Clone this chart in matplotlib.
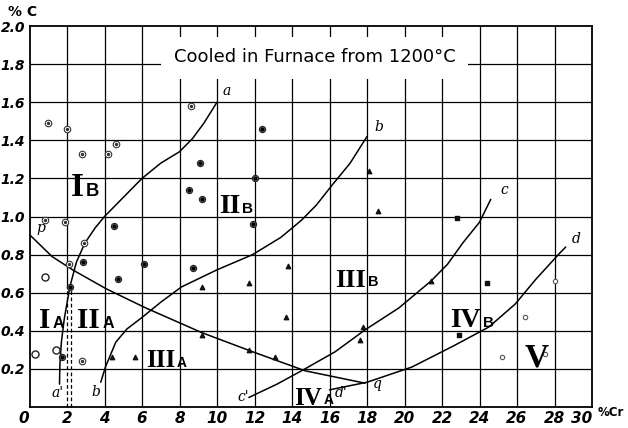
import matplotlib
matplotlib.use("Agg")
import matplotlib.pyplot as plt
from matplotlib.patches import Rectangle

# ---- data ----
# boundary curves, %Cr (x) vs %C (y)
curve_a_x = [1.6, 1.62, 1.7, 1.85, 2.15, 2.5, 2.95, 3.5, 4.0, 5.0, 6.0, 7.0, 8.0, 8.7, 9.3, 10.0]
curve_a_y = [0.12, 0.22, 0.34, 0.46, 0.63, 0.76, 0.86, 0.94, 1.0, 1.1, 1.2, 1.28, 1.34, 1.41, 1.49, 1.6]

curve_b_x = [3.8, 4.05, 4.6, 5.2, 6.0, 7.0, 8.1, 10.0, 11.9, 13.4, 14.5, 15.3, 16.1, 17.1, 18.0]
curve_b_y = [0.13, 0.21, 0.34, 0.41, 0.47, 0.55, 0.63, 0.72, 0.80, 0.89, 0.98, 1.06, 1.16, 1.28, 1.42]

curve_c_x = [11.7, 13.2, 14.6, 16.3, 17.9, 19.7, 21.4, 22.3, 23.1, 24.0, 24.6]
curve_c_y = [0.05, 0.12, 0.195, 0.29, 0.405, 0.52, 0.66, 0.75, 0.86, 0.97, 1.09]

curve_d_x = [16.0, 18.0, 20.4, 22.6, 24.5, 25.9, 27.0, 28.3, 28.6]
curve_d_y = [0.09, 0.13, 0.21, 0.32, 0.42, 0.54, 0.67, 0.81, 0.84]

curve_pq_x = [0.0, 1.2, 2.3, 4.1, 6.2, 9.2, 11.9, 14.7, 17.9]
curve_pq_y = [0.905, 0.79, 0.72, 0.62, 0.52, 0.39, 0.29, 0.19, 0.125]

# observations by marker type
dotcircle_x = [1.0, 2.0, 2.8, 4.2, 4.6, 8.6, 0.85, 1.9, 2.9, 2.1, 2.8]
dotcircle_y = [1.49, 1.46, 1.33, 1.33, 1.38, 1.58, 0.98, 0.97, 0.86, 0.75, 0.24]

starcircle_x = [2.85, 4.5, 4.7, 6.1, 8.7, 11.9, 9.1, 8.5, 9.2, 12.4, 12.05, 1.75, 2.15]
starcircle_y = [0.76, 0.95, 0.67, 0.75, 0.73, 0.96, 1.28, 1.14, 1.09, 1.46, 1.20, 0.26, 0.63]

opencircle_x = [0.8, 0.3, 1.4]
opencircle_y = [0.68, 0.28, 0.30]

triangle_x = [9.2, 9.2, 11.7, 11.7, 13.1, 13.7, 13.8, 18.1, 18.6, 21.4, 17.8, 17.6, 4.4, 5.6]
triangle_y = [0.63, 0.38, 0.65, 0.30, 0.26, 0.47, 0.74, 1.24, 1.03, 0.66, 0.42, 0.35, 0.26, 0.26]

square_x = [22.8, 22.9, 24.4]
square_y = [0.99, 0.38, 0.65]

smallcircle_x = [25.2, 26.4, 27.5, 28.0]
smallcircle_y = [0.26, 0.47, 0.28, 0.66]

x_ticks = list(range(0, 31, 2))
y_ticks = [0.2, 0.4, 0.6, 0.8, 1.0, 1.2, 1.4, 1.6, 1.8, 2.0]
y_ticklabels = ['0.2', '0.4', '0.6', '0.8', '1.0', '1.2', '1.4', '1.6', '1.8', '2.0']

region_labels = [
    ('I', 'B', 2.2, 1.105, 24),
    ('II', 'B', 10.1, 1.02, 20),
    ('III', 'B', 16.3, 0.63, 19),
    ('IV', 'B', 22.45, 0.42, 20),
    ('V', '', 26.4, 0.21, 24),
    ('I', 'A', 0.5, 0.415, 21),
    ('II', 'A', 2.55, 0.415, 21),
    ('III', 'A', 6.2, 0.21, 18),
    ('IV', 'A', 14.1, 0.012, 18),
]

curve_letters = [
    ('a', 10.3, 1.64), ("a'", 1.15, 0.05), ('b', 18.4, 1.45), ('b', 3.3, 0.06),
    ('c', 25.1, 1.12), ("c'", 11.1, 0.03), ('d', 28.9, 0.86), ("d'", 16.3, 0.05),
    ('p', 0.35, 0.92), ('q', 18.3, 0.1),
]

# ---- figure ----
fig = plt.figure(figsize=(6.28, 4.28), dpi=100)
ax = fig.add_axes([29.5 / 628, 21 / 428, (592 - 29.5) / 628, (407 - 26) / 428])
ax.set_xlim(0, 30)
ax.set_ylim(0, 2.0)

# grid
for xv in x_ticks[1:-1]:
    if xv == 2:
        ax.plot([xv, xv], [0.63, 2.0], color='black', lw=0.9, zorder=1)
        ax.plot([xv, xv], [0, 0.63], color='black', lw=0.9, ls=(0, (3, 2)), zorder=1)
    else:
        ax.axvline(xv, color='black', lw=0.9, zorder=1)
for yv in y_ticks[:-1]:
    ax.axhline(yv, color='black', lw=0.9, zorder=1)
ax.plot([2.2, 2.2], [0, 0.62], color='black', lw=0.9, ls=(0, (3, 2)), zorder=1)

# title box
ax.add_patch(Rectangle((7.0, 1.72), 16.4, 0.22, facecolor='white', edgecolor='none', zorder=2))
ax.text(15.2, 1.835, 'Cooled in Furnace from 1200°C', ha='center', va='center',
        fontsize=13, family='DejaVu Sans', zorder=3)

# curves
for cx, cy in [(curve_a_x, curve_a_y), (curve_b_x, curve_b_y), (curve_c_x, curve_c_y),
               (curve_d_x, curve_d_y), (curve_pq_x, curve_pq_y)]:
    ax.plot(cx, cy, color='black', lw=1.1, zorder=4, solid_capstyle='round')

# markers
ax.scatter(dotcircle_x, dotcircle_y, s=22, facecolors='white', edgecolors='#333333', linewidths=0.8, zorder=5)
ax.scatter(dotcircle_x, dotcircle_y, s=2, color='#333333', zorder=6)
ax.scatter(starcircle_x, starcircle_y, s=20, facecolors='#777777', edgecolors='#222222', linewidths=0.8, zorder=5)
ax.scatter(starcircle_x, starcircle_y, s=4, color='black', zorder=6)
ax.scatter(opencircle_x, opencircle_y, s=26, facecolors='white', edgecolors='#222222', linewidths=1.0, zorder=5)
ax.scatter(triangle_x, triangle_y, s=10, marker='^', color='#111111', zorder=5)
ax.scatter(square_x, square_y, s=10, marker='s', color='#111111', zorder=5)
ax.scatter(smallcircle_x, smallcircle_y, s=10, facecolors='white', edgecolors='#555555', linewidths=0.8, zorder=5)

# region labels: bold serif numeral + small sans subscript on its baseline
for num, sub, lx, ly, fs in region_labels:
    t = ax.text(lx, ly, num, fontsize=fs, family='Liberation Serif', fontweight='bold',
                ha='left', va='baseline', zorder=6)
    if sub:
        sfs = fs * 0.55
        ax.annotate(sub, xy=(1, 0), xycoords=t, xytext=(1.5, 0.21 * fs - 0.21 * sfs),
                    textcoords='offset points', fontsize=sfs, family='Liberation Sans',
                    fontweight='bold', ha='left', va='bottom', zorder=6)

# curve letters
for t, lx, ly in curve_letters:
    ax.text(lx, ly, t, fontsize=10, style='italic', family='DejaVu Serif', zorder=6)

# axes styling
ax.set_xticks(x_ticks)
ax.set_xticklabels([str(v) for v in x_ticks], fontsize=11, style='italic', fontweight='bold')
ax.set_yticks(y_ticks)
ax.set_yticklabels(y_ticklabels, fontsize=10, style='italic', fontweight='bold')
ax.tick_params(length=0, pad=3)
ax.get_xticklabels()[0].set_ha('right')
ax.get_xticklabels()[-1].set_ha('right')
for sp in ax.spines.values():
    sp.set_linewidth(1.3)

fig.text(8 / 628, 1 - 16 / 428, '% C', fontsize=10, fontweight='bold')
fig.text(598 / 628, 1 - 416 / 428, '%Cr', fontsize=8.5, fontweight='bold')

fig.savefig('out.png', dpi=100)
